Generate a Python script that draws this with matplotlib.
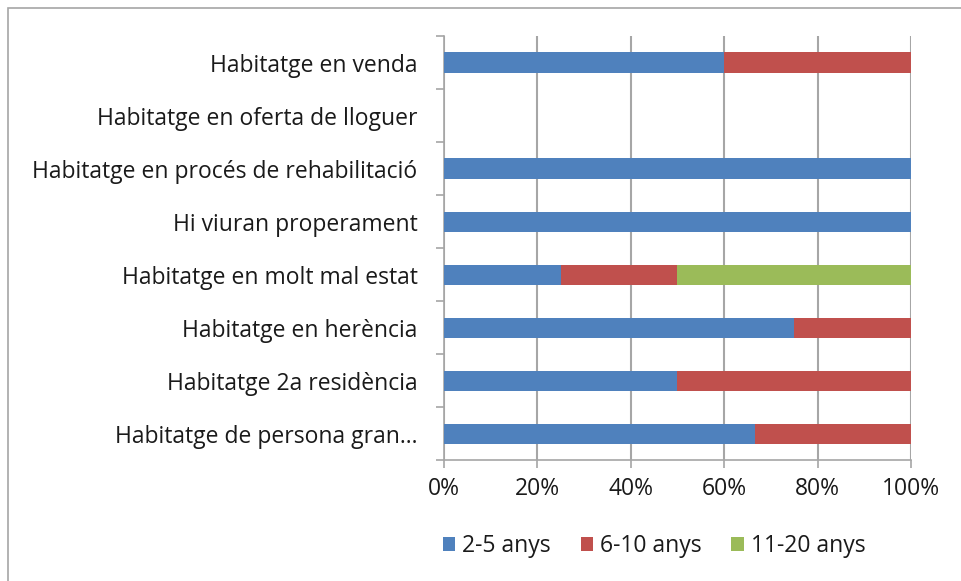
import numpy as np
import matplotlib.pyplot as plt
from matplotlib.patches import Rectangle
from matplotlib.ticker import PercentFormatter

plt.rcParams["font.family"] = ["Open Sans", "DejaVu Sans"]

categories = [
    "Habitatge en venda",
    "Habitatge en oferta de lloguer",
    "Habitatge en procés de rehabilitació",
    "Hi viuran properament",
    "Habitatge en molt mal estat",
    "Habitatge en herència",
    "Habitatge 2a residència",
    "Habitatge de persona gran...",
]
series = ["2-5 anys", "6-10 anys", "11-20 anys"]
share_2_5 = [0.60, 0.0, 1.0, 1.0, 0.25, 0.75, 0.50, 0.667]
share_6_10 = [0.40, 0.0, 0.0, 0.0, 0.25, 0.25, 0.50, 0.333]
share_11_20 = [0.0, 0.0, 0.0, 0.0, 0.50, 0.0, 0.0, 0.0]
colors = ["#4F81BD", "#C0504D", "#9BBB59"]
xticks = [0, 0.2, 0.4, 0.6, 0.8, 1.0]

FS = 16.5

fig = plt.figure(figsize=(9.62, 5.81), dpi=100)
ax = fig.add_axes([0.4615, 0.208, 0.4855, 0.730])

# outer chart frame
fig.patches.append(Rectangle((8 / 962, -0.01), 1.0, 1 - 8 / 581 + 0.01,
                             transform=fig.transFigure, fill=False,
                             edgecolor="#A6A6A6", linewidth=1.2))

y = np.arange(len(categories))[::-1]
left = np.zeros(len(categories))
for name, vals, col in zip(series, [share_2_5, share_6_10, share_11_20], colors):
    vals = np.array(vals)
    ax.barh(y, vals, left=left, height=0.38, color=col, label=name,
            edgecolor="none", zorder=3)
    left += vals

ax.set_xlim(0, 1)
ax.set_ylim(-0.5, len(categories) - 0.5)
ax.set_xticks(xticks)
ax.xaxis.set_major_formatter(PercentFormatter(xmax=1, decimals=0))
ax.set_yticks(y)
ax.set_yticklabels(categories)
ax.set_yticks(np.arange(len(categories) + 1) - 0.5, minor=True)

ax.grid(axis="x", color="#A6A6A6", linewidth=1.5, zorder=0)
for s in ("top", "right"):
    ax.spines[s].set_visible(False)
for s in ("left", "bottom"):
    ax.spines[s].set_color("#A6A6A6")
    ax.spines[s].set_linewidth(1.2)

ax.tick_params(axis="y", which="major", length=0, pad=19,
               labelsize=FS, labelcolor="#1a1a1a")
ax.tick_params(axis="y", which="minor", length=6, width=1.2,
               color="#A6A6A6", direction="out")
ax.tick_params(axis="x", length=6, width=1.2, color="#A6A6A6",
               direction="out", pad=6, labelsize=FS, labelcolor="#1a1a1a")

ax.legend(loc="upper center", bbox_to_anchor=(0.45, -0.125), ncol=3,
          frameon=False, fontsize=FS, handlelength=0.55, handleheight=0.55,
          handletextpad=0.3, columnspacing=1.3, labelcolor="#1a1a1a")

fig.savefig("out.png", dpi=100)
